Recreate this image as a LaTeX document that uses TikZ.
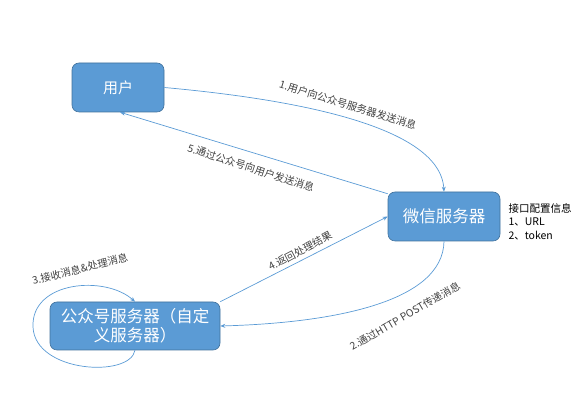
\documentclass[tikz,border=0pt]{standalone}
\usepackage{fontspec}
\setmainfont{Noto Sans CJK SC}
\usetikzlibrary{arrows.meta}
\definecolor{boxblue}{HTML}{5B9BD5}
\definecolor{boxedge}{HTML}{41719C}
\definecolor{labgray}{HTML}{404040}
\begin{document}
\begin{tikzpicture}[x=1pt, y=1pt,
    box/.style={draw=boxedge, fill=boxblue, rounded corners=7pt, text=white, line width=0.6pt, font=\fontsize{16.5}{19}\selectfont},
    arr/.style={draw=boxblue, line width=0.7pt, -{Stealth[length=5pt,width=4pt]}},
    lab/.style={text=labgray, font=\fontsize{10.3}{12}\selectfont}]
    \useasboundingbox (0,0) rectangle (588,403);
    % nodes
    \node[box, minimum width=92pt, minimum height=49pt, font=\fontsize{15}{18}\selectfont] (user) at (118,315.5) {用户};
    \node[box, minimum width=112pt, minimum height=49pt] (wx) at (444,186.5) {微信服务器};
    \node[box, minimum width=170pt, minimum height=48pt, align=center] (pub) at (135,77) {公众号服务器（自定\\义服务器）};
    \node[anchor=north west, align=left, font=\fontsize{10.5}{13.5}\selectfont] (cfg) at (505,203) {接口配置信息\\1、URL\\2、token};
    % connectors
    \draw[arr] (user.east) .. controls (280,305) and (440,280) .. (wx.north);
    \draw[arr] (wx.south) .. controls (443,100) and (330,80) .. (pub.east);
    \draw[arr] (pub.south) .. controls (130,25) and (35,30) .. (33,76) .. controls (31,122) and (105,128) .. (pub.north);
    \draw[arr] (pub.north east) -- (wx.west);
    \draw[arr] (wx.158) -- (user.275);
    % labels
    \node[lab, rotate=-17] (l1) at (348,298) {1.用户向公众号服务器发送消息};
    \node[lab, rotate=30] (l2) at (405,87) {2.通过HTTP POST传递消息};
    \node[lab, rotate=14] (l3) at (80,134) {3.接收消息\&处理消息};
    \node[lab, rotate=28] (l4) at (300,152) {4.返回处理结果};
    \node[lab, rotate=-18] (l5) at (251,235) {5.通过公众号向用户发送消息};
\end{tikzpicture}
\end{document}
